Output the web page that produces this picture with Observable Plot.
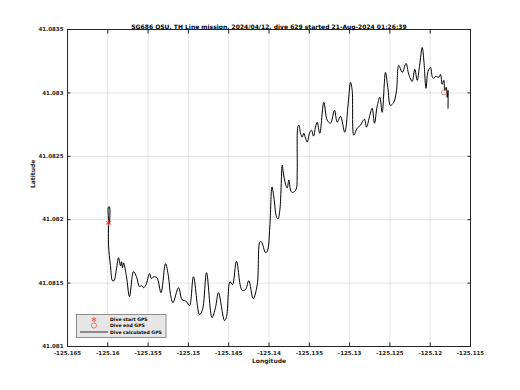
<!DOCTYPE html>
<html>
<head>
<meta charset="utf-8">
<script src="https://cdn.jsdelivr.net/npm/d3@7"></script>
<script src="https://cdn.jsdelivr.net/npm/@observablehq/plot@0.6"></script>
<style>
  html, body { margin: 0; padding: 0; background: #fff; }
  #chart { width: 520px; height: 390px; }
</style>
</head>
<body>
<div id="chart"></div>
<script>
const titleText = "SG686 OSU, TH Line mission, 2024/04/12, dive 629 started 21-Aug-2024 01:26:39";
const xLabel = "Longitude";
const yLabel = "Latitude";
const xTicks = [-125.165, -125.16, -125.155, -125.15, -125.145, -125.14, -125.135, -125.13, -125.125, -125.12, -125.115];
const yTicks = [41.081, 41.0815, 41.082, 41.0825, 41.083, 41.0835];
const legendLabels = ["Dive start GPS", "Dive end GPS", "Dive calculated GPS"];

const trackLon = [
  -125.15979, -125.15979, -125.15991, -125.15991, -125.15991, -125.15967, -125.15942, -125.15923, -125.15892, -125.15867,
  -125.15842, -125.15830, -125.15818, -125.15805, -125.15768, -125.15731, -125.15681, -125.15644, -125.15607, -125.15582,
  -125.15557, -125.15526, -125.15483, -125.15458, -125.15433, -125.15390, -125.15340, -125.15284, -125.15247, -125.15222,
  -125.15191, -125.15123, -125.15079, -125.15048, -125.15024, -125.14986, -125.14937, -125.14862, -125.14825, -125.14775,
  -125.14707, -125.14664, -125.14627, -125.14552, -125.14527, -125.14484, -125.14453, -125.14403, -125.14335, -125.14292,
  -125.14251, -125.14196, -125.14146, -125.14112, -125.14093, -125.14043, -125.14019, -125.13990, -125.13963, -125.13940,
  -125.13907, -125.13888, -125.13864, -125.13836, -125.13824, -125.13795, -125.13774, -125.13754, -125.13733, -125.13712,
  -125.13684, -125.13659, -125.13650, -125.13640, -125.13628, -125.13609, -125.13588, -125.13568, -125.13547, -125.13526,
  -125.13494, -125.13473, -125.13448, -125.13423, -125.13402, -125.13370, -125.13320, -125.13278, -125.13237, -125.13187,
  -125.13154, -125.13113, -125.13060, -125.13017, -125.12989, -125.12968, -125.12948, -125.12906, -125.12865, -125.12844,
  -125.12815, -125.12790, -125.12749, -125.12720, -125.12691, -125.12658, -125.12625, -125.12596, -125.12555, -125.12526,
  -125.12493, -125.12452, -125.12418, -125.12390, -125.12347, -125.12300, -125.12266, -125.12223, -125.12191, -125.12161,
  -125.12133, -125.12099, -125.12077, -125.12052, -125.12027, -125.11996, -125.11975, -125.11955, -125.11934, -125.11893,
  -125.11872, -125.11851, -125.11831, -125.11819, -125.11801, -125.11789, -125.11779, -125.11779
];
const trackLat = [
  41.081967, 41.082101, 41.082101, 41.081975, 41.081802, 41.081637, 41.081519, 41.081519, 41.081613, 41.081700,
  41.081637, 41.081668, 41.081621, 41.081660, 41.081550, 41.081393, 41.081590, 41.081550, 41.081472, 41.081480,
  41.081464, 41.081487, 41.081574, 41.081535, 41.081550, 41.081542, 41.081425, 41.081653, 41.081550, 41.081409,
  41.081346, 41.081464, 41.081369, 41.081362, 41.081354, 41.081322, 41.081550, 41.081252, 41.081291, 41.081582,
  41.081228, 41.081307, 41.081425, 41.081204, 41.081236, 41.081511, 41.081487, 41.081672, 41.081444, 41.081448,
  41.081519, 41.081377, 41.081487, 41.081825, 41.081825, 41.081739, 41.081755, 41.081943, 41.082258, 41.082179,
  41.082022, 41.082006, 41.082085, 41.082431, 41.082376, 41.082281, 41.082250, 41.082313, 41.082234, 41.082215,
  41.082222, 41.082250, 41.082392, 41.082737, 41.082745, 41.082682, 41.082651, 41.082682, 41.082643, 41.082612,
  41.082690, 41.082706, 41.082659, 41.082730, 41.082769, 41.082682, 41.082926, 41.082785, 41.082761, 41.082863,
  41.082769, 41.082816, 41.082690, 41.082918, 41.083083, 41.083020, 41.082667, 41.082722, 41.082745, 41.082769,
  41.082792, 41.082730, 41.082824, 41.082879, 41.082761, 41.082895, 41.082965, 41.082847, 41.083162, 41.083044,
  41.082902, 41.082926, 41.083020, 41.083217, 41.083162, 41.083233, 41.083146, 41.083091, 41.083186, 41.083099,
  41.083209, 41.083358, 41.083241, 41.083036, 41.083170, 41.083201, 41.083130, 41.083115, 41.083130, 41.083123,
  41.083146, 41.083068, 41.083099, 41.083020, 41.083044, 41.082965, 41.083020, 41.082879
];
const startGPS = [-125.15991, 41.081975];
const endGPS = [-125.11828, 41.083005];

const track = trackLon.map((lon, i) => ({lon, lat: trackLat[i]}));
const font = "DejaVu Sans, sans-serif";

const chart = Plot.plot({
  width: 520,
  height: 390,
  marginLeft: 67,
  marginRight: 50,
  marginTop: 29,
  marginBottom: 44,
  style: {fontFamily: font, background: "#fff", color: "#262626"},
  x: {domain: [xTicks[0], xTicks[xTicks.length - 1]]},
  y: {domain: [yTicks[0], yTicks[yTicks.length - 1]]},
  marks: [
    Plot.gridX(xTicks, {stroke: "#000", strokeOpacity: 0.1}),
    Plot.gridY(yTicks, {stroke: "#000", strokeOpacity: 0.1}),
    Plot.frame({stroke: "#262626", strokeWidth: 1}),
    Plot.axisX(xTicks, {anchor: "bottom", tickSize: -3.5, fill: "none", label: null}),
    Plot.axisX(xTicks, {anchor: "top", tickSize: -3.5, fill: "none", label: null}),
    Plot.axisY(yTicks, {anchor: "left", tickSize: -3.5, fill: "none", label: null}),
    Plot.axisY(yTicks, {anchor: "right", tickSize: -3.5, fill: "none", label: null}),
    Plot.axisX(xTicks, {anchor: "bottom", tickSize: 0, tickPadding: 5, tickFormat: d => String(d), fontSize: 5.5, fontWeight: "bold", fill: "#262626", label: null}),
    Plot.axisY(yTicks, {anchor: "left", tickSize: 0, tickPadding: 4, tickFormat: d => String(d), fontSize: 5.5, fontWeight: "bold", fill: "#262626", label: null}),
    Plot.line(track, {x: "lon", y: "lat", stroke: "#000", strokeWidth: 1, curve: "catmull-rom"}),
    Plot.dot([startGPS], {x: d => d[0], y: d => d[1], symbol: "asterisk", r: 3, stroke: "#e8322b", strokeWidth: 0.8}),
    Plot.dot([endGPS], {x: d => d[0], y: d => d[1], symbol: "circle", r: 2.6, stroke: "#e8322b", fill: "none", strokeWidth: 0.6}),
    Plot.text([titleText], {frameAnchor: "top", dy: -5, text: d => d, fontSize: 6, fontWeight: "bold", fill: "#000"}),
    Plot.text([xLabel], {frameAnchor: "bottom", dy: 16, text: d => d, fontSize: 6, fontWeight: "bold", fill: "#262626"}),
    Plot.text([yLabel], {frameAnchor: "left", dx: -34, rotate: -90, text: d => d, fontSize: 6, fontWeight: "bold", fill: "#262626"})
  ]
});

// Legend box (decoration drawn inside the SVG)
const svg = d3.select(chart);
const lg = svg.append("g").attr("font-family", font).attr("font-size", 4.6).attr("font-weight", "bold").attr("text-anchor", "start");
lg.append("rect").attr("x", 76.5).attr("y", 314.5).attr("width", 89.5).attr("height", 23)
  .attr("fill", "#e6e6e6").attr("stroke", "#666").attr("stroke-width", 0.7);
const rowY = [319.5, 325.5, 332];
// asterisk
const ax = 94, ay = rowY[0], ar = 2.6;
for (let a = 0; a < 180; a += 60) {
  const t = a * Math.PI / 180;
  lg.append("line").attr("x1", ax - ar * Math.sin(t)).attr("y1", ay - ar * Math.cos(t))
    .attr("x2", ax + ar * Math.sin(t)).attr("y2", ay + ar * Math.cos(t))
    .attr("stroke", "#e8322b").attr("stroke-width", 0.7);
}
lg.append("circle").attr("cx", 94).attr("cy", rowY[1]).attr("r", 2.6).attr("fill", "none").attr("stroke", "#e8322b").attr("stroke-width", 0.6);
lg.append("line").attr("x1", 80).attr("x2", 108).attr("y1", rowY[2]).attr("y2", rowY[2]).attr("stroke", "#000").attr("stroke-width", 0.8);
legendLabels.forEach((t, i) => {
  lg.append("text").attr("x", 110).attr("y", rowY[i]).attr("dy", "0.35em").attr("text-anchor", "start").attr("fill", "#000").text(t);
});

document.getElementById("chart").appendChild(chart);
</script>
</body>
</html>
